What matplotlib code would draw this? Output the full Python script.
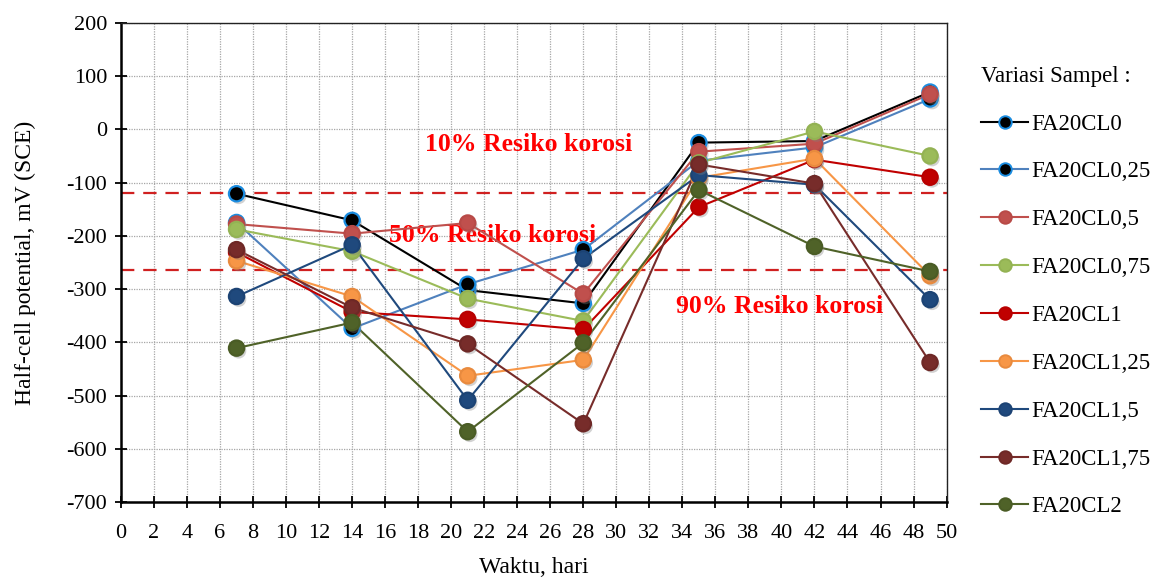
import numpy as np
import matplotlib.pyplot as plt
import matplotlib.patheffects as pe

plt.rcParams['font.family'] = ['Liberation Serif', 'DejaVu Serif']
plt.rcParams['axes.unicode_minus'] = False

# Half-cell potential readings (mV vs SCE) per curing age
days = [7, 14, 21, 28, 35, 42, 49]
labels = ['FA20CL0', 'FA20CL0,25', 'FA20CL0,5', 'FA20CL0,75', 'FA20CL1',
          'FA20CL1,25', 'FA20CL1,5', 'FA20CL1,75', 'FA20CL2']
cl0 = [-121, -171, -302, -327, -25, -22, 70]
cl025 = [-175, -374, -291, -226, -59, -34, 57]
cl05 = [-178, -196, -176, -309, -42, -27, 66]
cl075 = [-188, -229, -318, -360, -63, -4, -50]
cl1 = [-231, -343, -357, -376, -146, -57, -90]
cl125 = [-247, -314, -463, -433, -91, -55, -275]
cl15 = [-314, -217, -509, -243, -86, -104, -320]
cl175 = [-226, -335, -403, -553, -66, -102, -438]
cl2 = [-411, -363, -568, -401, -114, -220, -267]
series = [cl0, cl025, cl05, cl075, cl1, cl125, cl15, cl175, cl2]

# corrosion risk thresholds
limit_10 = -120
limit_90 = -264

line_colors = ['#000000', '#4f81bd', '#c0504d', '#9bbb59', '#c00000',
               '#f79646', '#1f497d', '#772c2a', '#4f6228']
face_colors = ['#000000', '#000000', '#c0504d', '#9bbb59', '#c00000',
               '#f79646', '#1f497d', '#772c2a', '#4f6228']
edge_colors = ['#1a8ce0', '#1a8ce0', '#b84a47', '#93b253', '#b80000',
               '#e88a3e', '#1c4374', '#6e2826', '#4a5c25']

fig = plt.figure(figsize=(11.6, 5.78), dpi=100)
ax = fig.add_axes([0.1043, 0.1315, 0.7117, 0.829])

shadow = [pe.SimplePatchShadow(offset=(1.5, -2), shadow_rgbFace='gray', alpha=0.35),
          pe.Normal()]

handles = []
for vals, lab, lc, fc, ec in zip(series, labels, line_colors, face_colors, edge_colors):
    ax.plot(days, vals, color=lc, lw=1.5, zorder=3)
    ax.plot(days, vals, ls='none', marker='o', ms=11, mfc=fc, mec=ec, mew=1.6,
            zorder=4, path_effects=shadow)
    h, = ax.plot([], [], color=lc, lw=1.5, marker='o', ms=9, mfc=fc, mec=ec, mew=1.4)
    h.set_label(lab)
    handles.append(h)

ax.axhline(limit_10, color='#d02020', ls=(0, (6, 4)), lw=1.6, zorder=2)
ax.axhline(limit_90, color='#d02020', ls=(0, (6, 4)), lw=1.6, zorder=2)

txt = dict(color='#ff0000', fontsize=18.5, fontweight='bold', ha='center', va='center', zorder=1)
ax.text(24.7, -28, '10% Resiko korosi', **txt)
ax.text(22.5, -199, '50% Resiko korosi', **txt)
ax.text(39.9, -333, '90% Resiko korosi', **txt)

ax.set_xlim(0, 50)
ax.set_ylim(-700, 200)
ax.set_xticks(np.arange(0, 51, 2))
ax.set_yticks(np.arange(-700, 201, 100))
ax.grid(True, color='#a6a6a6', ls=(0, (1, 1)), lw=0.9, zorder=0)
ax.set_axisbelow(True)

ax.tick_params(direction='inout', length=8, width=1.3, labelsize=16)
ax.tick_params(axis='x', pad=12)
ax.tick_params(axis='y', pad=6)
for side in ['left', 'bottom']:
    ax.spines[side].set_linewidth(1.8)
for side in ['top', 'right']:
    ax.spines[side].set_linewidth(1.0)
    ax.spines[side].set_color('#222222')

ax.set_xlabel('Waktu, hari', fontsize=17, labelpad=10)
ax.set_ylabel('Half-cell potential, mV (SCE)', fontsize=17, labelpad=22)

fig.legend(handles=handles, loc='upper left', bbox_to_anchor=(0.828, 0.922),
           frameon=False, fontsize=16.5, title='Variasi Sampel :', title_fontsize=16.5,
           alignment='left', handlelength=2.05, labelspacing=1.17, handletextpad=0.15)

fig.savefig('out.png', dpi=100)
